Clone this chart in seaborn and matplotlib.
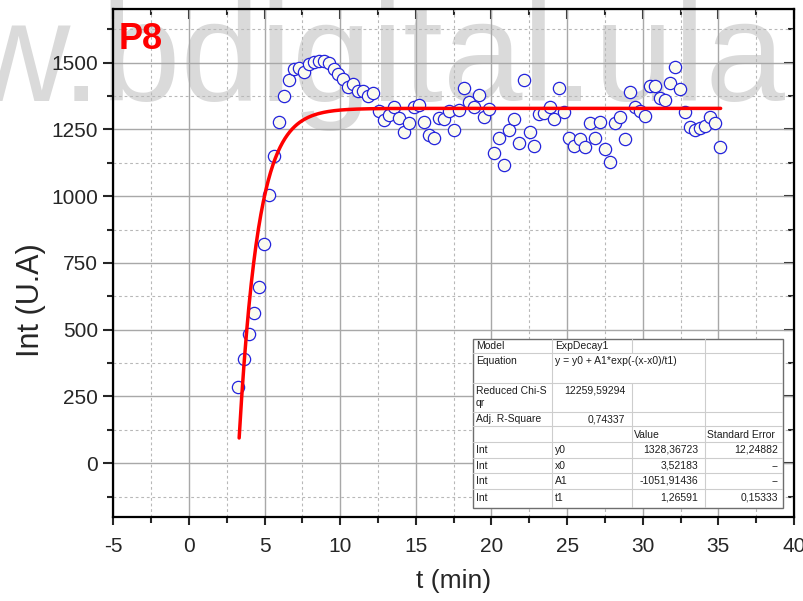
import numpy as np
import matplotlib
matplotlib.use("Agg")
import matplotlib.pyplot as plt
import seaborn as sns
from matplotlib.patches import Rectangle
from matplotlib.ticker import MultipleLocator

t_min = [3.26, 3.64, 3.95, 4.30, 4.61, 4.96, 5.29, 5.62, 5.95, 6.28,
         6.61, 6.94, 7.27, 7.60, 7.93, 8.27, 8.60, 8.93, 9.26, 9.59,
         9.88, 10.20, 10.53, 10.86, 11.19, 11.52, 11.85, 12.18, 12.56, 12.89,
         13.22, 13.55, 13.88, 14.21, 14.54, 14.87, 15.20, 15.54, 15.87, 16.20,
         16.53, 16.86, 17.19, 17.54, 17.85, 18.20, 18.53, 18.86, 19.19, 19.52,
         19.85, 20.18, 20.51, 20.84, 21.17, 21.50, 21.83, 22.16, 22.52, 22.83,
         23.14, 23.49, 23.84, 24.15, 24.48, 24.81, 25.14, 25.45, 25.85, 26.18,
         26.51, 26.84, 27.17, 27.50, 27.83, 28.16, 28.49, 28.82, 29.15, 29.48,
         29.81, 30.14, 30.47, 30.80, 31.13, 31.46, 31.79, 32.12, 32.46, 32.79,
         33.12, 33.45, 33.78, 34.11, 34.44, 34.77, 35.13]
intensity = [284, 390, 485, 561, 659, 820, 1005, 1151, 1277, 1375,
             1434, 1475, 1481, 1463, 1493, 1503, 1507, 1507, 1499, 1476,
             1457, 1437, 1407, 1418, 1393, 1393, 1375, 1385, 1320, 1285,
             1303, 1335, 1291, 1239, 1273, 1332, 1342, 1279, 1227, 1216,
             1291, 1290, 1320, 1246, 1321, 1405, 1351, 1332, 1378, 1297,
             1327, 1163, 1216, 1116, 1249, 1287, 1200, 1433, 1241, 1189,
             1309, 1310, 1334, 1289, 1406, 1314, 1219, 1186, 1213, 1185,
             1275, 1216, 1279, 1175, 1129, 1275, 1297, 1213, 1391, 1335,
             1318, 1301, 1413, 1412, 1368, 1360, 1422, 1484, 1401, 1314,
             1260, 1246, 1256, 1264, 1297, 1272, 1185]

# ExpDecay1 fit parameters (from the fit report)
y0, x0, A1, t1 = 1328.36723, 3.52183, -1051.91436, 1.26591
fit_start, fit_end = 3.32, 35.15

# fit report text
param_names = ["y0", "x0", "A1", "t1"]
param_values = ["1328,36723", "3,52183", "-1051,91436", "1,26591"]
param_errors = ["12,24882", "--", "--", "0,15333"]

sns.set_style("ticks")
plt.rcParams['font.family'] = ['Liberation Sans', 'DejaVu Sans']
plt.rcParams['axes.unicode_minus'] = False

W, H = 804, 601
fig = plt.figure(figsize=(W / 100, H / 100), dpi=100, facecolor='white')

# watermark behind the plot
fig.text(-34 / W, 1 - 101 / H, "w.bdigital.ula", fontsize=103, color='#dadada',
         ha='left', va='baseline', zorder=-5)

ax = fig.add_axes([113.3 / W, 1 - 516.7 / H, 680.7 / W, 507.6 / H])
ax.patch.set_alpha(0)

# fit curve from the reported parameters
t_fit = np.linspace(fit_start, fit_end, 400)
y_fit = y0 + A1 * np.exp(-(t_fit - x0) / t1)

sns.scatterplot(x=t_min, y=intensity, ax=ax, s=78, color='#fbfbef',
                edgecolor='#2323dc', linewidth=0.9, zorder=3)
sns.lineplot(x=t_fit, y=y_fit, ax=ax, color='red', linewidth=2.5, zorder=4)

ax.set_xlim(-5, 40)
ax.set_ylim(-200, 1700)
ax.xaxis.set_major_locator(MultipleLocator(5))
ax.xaxis.set_minor_locator(MultipleLocator(2.5))
ax.yaxis.set_major_locator(MultipleLocator(250))
ax.yaxis.set_minor_locator(MultipleLocator(125))

ax.grid(which='major', color='#a8a8a8', linewidth=1.0, linestyle='-', zorder=0)
ax.grid(which='minor', color='#b8b8b8', linewidth=0.8, linestyle=(0, (2.5, 2.5)), zorder=0)

for sp in ax.spines.values():
    sp.set_visible(True)
    sp.set_linewidth(1.6)
    sp.set_color('black')

ax.tick_params(axis='x', which='major', direction='out', length=6, width=1.5,
               labelsize=15, pad=8.5)
ax.tick_params(axis='x', which='minor', direction='out', length=4, width=1.5)
ax.tick_params(axis='y', which='major', direction='out', length=7, width=1.5,
               labelsize=15, pad=4)
ax.tick_params(axis='y', which='minor', direction='out', length=4, width=1.5)

# top / right ticks pointing inward
top = ax.secondary_xaxis('top')
top.xaxis.set_major_locator(MultipleLocator(5))
top.xaxis.set_minor_locator(MultipleLocator(2.5))
top.tick_params(which='major', direction='in', length=7, width=1.5, labeltop=False)
top.tick_params(which='minor', direction='in', length=4, width=1.5)
right = ax.secondary_yaxis('right')
right.yaxis.set_major_locator(MultipleLocator(250))
right.yaxis.set_minor_locator(MultipleLocator(125))
right.tick_params(which='major', direction='in', length=7, width=1.5, labelright=False)
right.tick_params(which='minor', direction='in', length=4, width=1.5)

ax.set_xlabel("t (min)", fontsize=19)
ax.set_ylabel("Int (U.A)", fontsize=22)
ax.xaxis.set_label_coords(0.5, -0.104)
ax.yaxis.set_label_coords(-0.099, 0.427)

ax.text(0.008, 0.975, "P8", transform=ax.transAxes, color='red', fontsize=26,
        fontweight='bold', ha='left', va='top', zorder=6)

# fit report table
L, R, T, B = 472.7, 783.3, 339, 508.3
tab = fig.add_axes([L / W, 1 - B / H, (R - L) / W, (B - T) / H])
tab.set_xlim(L, R)
tab.set_ylim(B, T)
tab.axis('off')
tab.add_patch(Rectangle((L, T), R - L, B - T, facecolor='white', edgecolor='#6e6e6e',
                        linewidth=1.0, clip_on=False))
row_lines = [353.3, 383.3, 412.3, 425.7, 442.3, 457.7, 473.3, 488.7]
line_kw = dict(color='#cdcdcd', linewidth=0.8)
for yy in row_lines:
    tab.plot([L, R], [yy, yy], **line_kw)
tab.plot([551.7, 551.7], [T, B], **line_kw)
tab.plot([705, 705], [T, B], **line_kw)
tab.plot([631.7, 631.7], [T, 353.3], **line_kw)
tab.plot([631.7, 631.7], [383.3, B], **line_kw)

fs = 7.5
tc = '#1e1e1e'
tab.text(476, 346.5, "Model", fontsize=fs, color=tc, va='center')
tab.text(555, 346.5, "ExpDecay1", fontsize=fs, color=tc, va='center')
tab.text(476, 361, "Equation", fontsize=fs, color=tc, va='center')
tab.text(555, 361, "y = y0 + A1*exp(-(x-x0)/t1)", fontsize=fs, color=tc, va='center')
tab.text(476, 391, "Reduced Chi-S", fontsize=fs, color=tc, va='center')
tab.text(476, 403.5, "qr", fontsize=fs, color=tc, va='center')
tab.text(625, 391, "12259,59294", fontsize=fs, color=tc, va='center', ha='right')
tab.text(476, 419.5, "Adj. R-Square", fontsize=fs, color=tc, va='center')
tab.text(625, 419.5, "0,74337", fontsize=fs, color=tc, va='center', ha='right')
tab.text(634, 435, "Value", fontsize=fs, color=tc, va='center')
tab.text(707.5, 435, "Standard Error", fontsize=fs, color=tc, va='center')
row_y = [450, 466, 481, 498]
for yy, nm, val, err in zip(row_y, param_names, param_values, param_errors):
    tab.text(476, yy, "Int", fontsize=fs, color=tc, va='center')
    tab.text(555, yy, nm, fontsize=fs, color=tc, va='center')
    tab.text(698.5, yy, val, fontsize=fs, color=tc, va='center', ha='right')
    tab.text(778.5, yy, err, fontsize=fs, color=tc, va='center', ha='right')

fig.savefig("out.png", dpi=100, facecolor='white')
